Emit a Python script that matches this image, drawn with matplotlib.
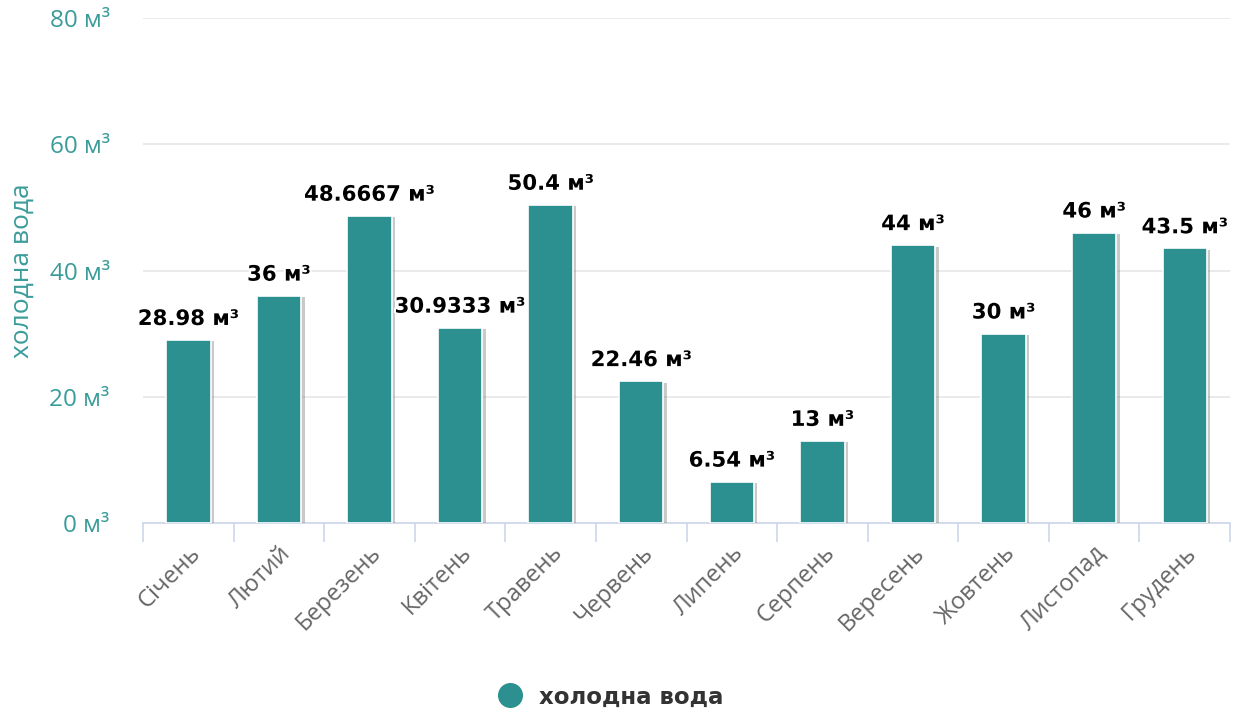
import matplotlib.pyplot as plt
import matplotlib.patheffects as pe

months = ['Січень', 'Лютий', 'Березень', 'Квітень', 'Травень', 'Червень',
          'Липень', 'Серпень', 'Вересень', 'Жовтень', 'Листопад', 'Грудень']
water = [28.98, 36, 48.6667, 30.9333, 50.4, 22.46, 6.54, 13, 44, 30, 46, 43.5]
labels = ['28.98', '36', '48.6667', '30.9333', '50.4', '22.46',
          '6.54', '13', '44', '30', '46', '43.5']
yticks = [0, 20, 40, 60, 80]

teal = '#2b908f'
axis_teal = '#3a9c9a'

fig = plt.figure(figsize=(12.35, 7.2), dpi=100)
ax = fig.add_axes([0.1158, 0.2736, 0.8802, 0.7014])

x = list(range(len(months)))
bars = ax.bar(x, water, width=0.49, color=teal, edgecolor='white', linewidth=1.2,
              label='холодна вода', zorder=3)
for b in bars:
    b.set_path_effects([pe.SimplePatchShadow(offset=(2.5, -1), shadow_rgbFace='#888888', alpha=0.45),
                        pe.Normal()])

for xi, v, lab in zip(x, water, labels):
    ax.annotate(lab + ' м³', (xi, v), xytext=(0, 8), textcoords='offset points',
                ha='center', va='bottom', fontsize=15.3, fontweight='bold',
                family='DejaVu Sans', color='black', zorder=5,
                path_effects=[pe.withStroke(linewidth=3, foreground='white')])

ax.set_xlim(-0.5, len(months) - 0.5)
ax.set_ylim(0, 80)
ax.set_yticks(yticks)
ax.set_yticklabels([f'{t} м³' for t in yticks], family='Open Sans', fontsize=17.5, color=axis_teal)
ax.tick_params(axis='y', length=0, pad=24)

ax.set_xticks(x)
ax.set_xticklabels(months, rotation=45, ha='right', rotation_mode='anchor',
                   family='Open Sans', fontsize=17, color='#666666')
ax.tick_params(axis='x', which='major', length=0, pad=13)
ax.set_xticks([i - 0.5 for i in range(len(months) + 1)], minor=True)
ax.tick_params(axis='x', which='minor', length=14, width=1.2, color='#ccd6eb')

ax.set_ylabel('холодна вода', family='Open Sans', fontsize=19, color=axis_teal)
ax.yaxis.set_label_coords(-0.1, 0.5)

ax.grid(axis='y', color='#e6e6e6', linewidth=1.2, zorder=0)
for s in ['top', 'right', 'left']:
    ax.spines[s].set_visible(False)
ax.spines['bottom'].set_color('#ccd6eb')
ax.spines['bottom'].set_linewidth(1.2)

handle = plt.Line2D([], [], marker='o', linestyle='', markersize=17, color=teal)
fig.legend([handle], ['холодна вода'], loc='center', bbox_to_anchor=(0.49, 0.032),
           frameon=False, prop={'family': 'DejaVu Sans', 'weight': 'bold', 'size': 16.5},
           labelcolor='#333333', handletextpad=0.25)

fig.savefig('out.png', dpi=100)
